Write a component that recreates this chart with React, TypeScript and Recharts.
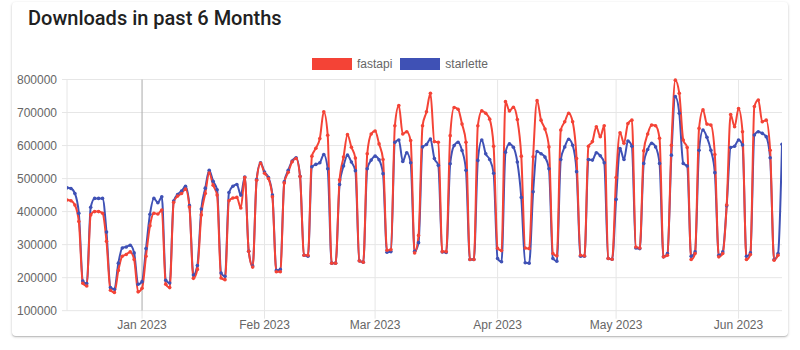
import { LineChart, Line, XAxis, YAxis, CartesianGrid, ReferenceLine } from "recharts";

// daily downloads, one value per day starting 2022-12-13
const DAY = 86400000;
const firstDay = Date.UTC(2022, 11, 13);

const fastapi = [
  435000, 433000, 420000, 370000, 183000, 175000,
  390000, 400000, 400000, 395000, 310000, 162000, 155000,
  222000, 265000, 270000, 278000, 255000, 157000, 168000,
  265000, 357000, 395000, 393000, 405000, 180000, 170000,
  428000, 447000, 455000, 468000, 414000, 198000, 225000,
  390000, 455000, 517000, 480000, 450000, 199000, 194000,
  433000, 441000, 443000, 411000, 503000, 280000, 232000,
  495000, 546000, 516000, 500000, 445000, 218000, 218000,
  487000, 519000, 551000, 561000, 506000, 268000, 268000,
  568000, 592000, 621000, 702000, 631000, 244000, 244000,
  496000, 565000, 633000, 595000, 562000, 251000, 247000,
  575000, 635000, 644000, 605000, 558000, 283000, 285000,
  660000, 721000, 635000, 642000, 615000, 275000, 328000,
  660000, 702000, 758000, 612000, 610000, 279000, 279000,
  630000, 715000, 710000, 665000, 610000, 255000, 255000,
  660000, 705000, 698000, 680000, 598000, 289000, 282000,
  733000, 705000, 716000, 679000, 568000, 290000, 288000,
  566000, 736000, 677000, 650000, 596000, 273000, 266000,
  647000, 672000, 698000, 672000, 561000, 268000, 266000,
  598000, 612000, 657000, 627000, 660000, 258000, 256000,
  503000, 639000, 607000, 667000, 677000, 293000, 290000,
  584000, 635000, 662000, 660000, 622000, 263000, 268000,
  601000, 798000, 758000, 617000, 594000, 255000, 273000,
  652000, 708000, 665000, 662000, 573000, 263000, 273000,
  420000, 694000, 657000, 712000, 642000, 255000, 270000,
  718000, 738000, 672000, 677000, 586000, 253000, 268000,
  null,
];

const starlette = [
  472000, 470000, 455000, 395000, 190000, 182000,
  413000, 440000, 440000, 440000, 338000, 170000, 165000,
  244000, 290000, 293000, 298000, 275000, 180000, 188000,
  288000, 392000, 440000, 427000, 445000, 192000, 184000,
  432000, 452000, 462000, 477000, 418000, 208000, 237000,
  408000, 471000, 525000, 492000, 466000, 214000, 204000,
  458000, 477000, 482000, 450000, 505000, 280000, 235000,
  497000, 548000, 520000, 503000, 450000, 222000, 225000,
  490000, 525000, 553000, 563000, 507000, 268000, 265000,
  536000, 543000, 548000, 573000, 530000, 244000, 244000,
  482000, 538000, 571000, 550000, 524000, 251000, 247000,
  530000, 556000, 568000, 557000, 515000, 277000, 279000,
  610000, 617000, 552000, 578000, 548000, 280000, 306000,
  596000, 603000, 620000, 561000, 540000, 278000, 276000,
  545000, 600000, 610000, 585000, 525000, 255000, 255000,
  555000, 617000, 575000, 558000, 516000, 258000, 248000,
  580000, 605000, 595000, 550000, 443000, 245000, 244000,
  460000, 582000, 575000, 565000, 530000, 258000, 250000,
  558000, 596000, 619000, 601000, 521000, 265000, 265000,
  558000, 556000, 578000, 569000, 548000, 258000, 256000,
  437000, 591000, 558000, 614000, 598000, 290000, 288000,
  546000, 588000, 607000, 596000, 546000, 263000, 273000,
  571000, 748000, 698000, 546000, 538000, 265000, 278000,
  586000, 647000, 625000, 586000, 518000, 268000, 278000,
  418000, 594000, 598000, 617000, 602000, 265000, 275000,
  632000, 642000, 637000, 627000, 563000, 255000, 273000,
  604000,
];

const monthTicks = [
  Date.UTC(2023, 0, 1),
  Date.UTC(2023, 1, 1),
  Date.UTC(2023, 2, 1),
  Date.UTC(2023, 3, 1),
  Date.UTC(2023, 4, 1),
  Date.UTC(2023, 5, 1),
];
const monthLabels = ["Jan 2023", "Feb 2023", "Mar 2023", "Apr 2023", "May 2023", "Jun 2023"];
const yTicks = [100000, 200000, 300000, 400000, 500000, 600000, 700000, 800000];

const series = [
  { key: "fastapi", color: "#F44336" },
  { key: "starlette", color: "#3F51B5" },
];

const data = starlette.map((s, i) => ({
  t: firstDay + i * DAY,
  fastapi: fastapi[i],
  starlette: s,
}));

const FONT = "'Liberation Sans', Arial, sans-serif";
const GRID = "#e6e6e6";

export default function App() {
  return (
    <div style={{ position: "fixed", left: 0, top: 0, width: 800, height: 350, background: "#fff" }}>
      <div
        style={{
          position: "absolute",
          left: 12,
          top: 2,
          width: 776,
          height: 334,
          borderRadius: 4,
          boxShadow: "0 1px 3px rgba(0,0,0,0.2), 0 1px 1px rgba(0,0,0,0.14)",
        }}
      />
      <div
        style={{
          position: "absolute",
          left: 28,
          top: 6,
          fontFamily: "Roboto, sans-serif",
          fontSize: 20,
          fontWeight: 500,
          lineHeight: "24px",
          color: "#212121",
        }}
      >
        Downloads in past 6 Months
      </div>
      <div
        style={{
          position: "absolute",
          top: 58,
          left: 0,
          width: 800,
          display: "flex",
          justifyContent: "center",
          gap: 8,
          fontFamily: FONT,
          fontSize: 12,
          color: "#666",
          lineHeight: "12px",
        }}
      >
        {series.map((s) => (
          <div key={s.key} style={{ display: "flex", alignItems: "center" }}>
            <span style={{ width: 40, height: 12, background: s.color, marginRight: 5 }} />
            <span>{s.key}</span>
          </div>
        ))}
      </div>
      <div style={{ position: "absolute", left: 0, top: 0 }}>
        <LineChart
          width={800}
          height={350}
          data={data}
          margin={{ top: 79.5, right: 18, bottom: 9.3, left: 0 }}
        >
          <CartesianGrid stroke={GRID} horizontalValues={yTicks} verticalValues={monthTicks} />
          <XAxis
            dataKey="t"
            type="number"
            domain={[data[0].t, data[data.length - 1].t]}
            ticks={monthTicks}
            tickFormatter={(v) => monthLabels[monthTicks.indexOf(v)]}
            tick={{ fill: "#666", fontSize: 12, fontFamily: FONT }}
            tickLine={{ stroke: GRID }}
            tickSize={8}
            tickMargin={2}
            axisLine={false}
            height={30}
            allowDataOverflow
          />
          <YAxis
            type="number"
            domain={[100000, 800000]}
            ticks={yTicks}
            tick={{ fill: "#666", fontSize: 12, fontFamily: FONT }}
            tickLine={{ stroke: GRID }}
            tickSize={5}
            tickMargin={5}
            axisLine={{ stroke: GRID }}
            width={67}
            interval={0}
          />
          <ReferenceLine x={monthTicks[0]} stroke="rgba(0,0,0,0.25)" />
          <Line
            type="monotone"
            dataKey="starlette"
            stroke="#3F51B5"
            strokeWidth={2}
            dot={{ r: 1.8, fill: "#3F51B5", stroke: "#3F51B5", strokeWidth: 0 }}
            isAnimationActive={false}
          />
          <Line
            type="monotone"
            dataKey="fastapi"
            stroke="#F44336"
            strokeWidth={2}
            dot={{ r: 1.8, fill: "#F44336", stroke: "#F44336", strokeWidth: 0 }}
            isAnimationActive={false}
          />
        </LineChart>
      </div>
    </div>
  );
}
